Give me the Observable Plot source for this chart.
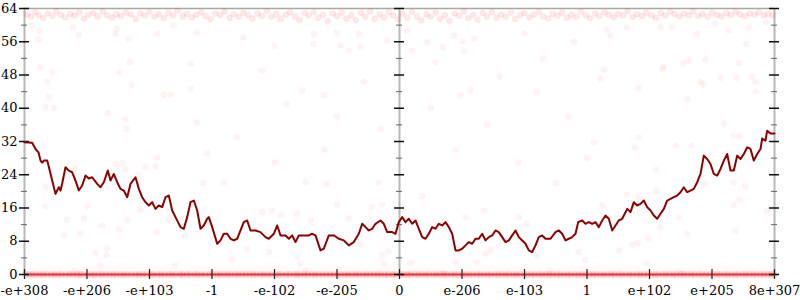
<!DOCTYPE html>
<html>
<head>
<meta charset="utf-8">
<script src="https://cdn.jsdelivr.net/npm/d3@7"></script>
<script src="https://cdn.jsdelivr.net/npm/@observablehq/plot@0.6"></script>
<style>
  html, body { margin: 0; padding: 0; background: #fff; }
</style>
</head>
<body>
<div id="chart"></div>
<script>
// X axis: evenly spaced positions (-6..6) labelled with double-precision magnitudes
const xTicks = [-6, -5, -4, -3, -2, -1, 0, 1, 2, 3, 4, 5, 6];
const xLabels = ["-e+308", "-e+206", "-e+103", "-1", "-e-102", "-e-205", "0", "e-206", "e-103", "1", "e+102", "e+205", "8e+307"];
const yMajor = [0, 8, 16, 24, 32, 40, 48, 56, 64];
const yMinor = [4, 12, 20, 28, 36, 44, 52, 60];
const axisPositions = [-6, 0, 6];

// Moving-average error line
const lineX = [-6.000,-5.877,-5.824,-5.776,-5.744,-5.717,-5.691,-5.637,-5.616,-5.557,-5.504,-5.451,-5.424,-5.397,-5.344,-5.291,-5.237,-5.184,-5.131,-5.077,-5.024,-4.971,-4.917,-4.837,-4.784,-4.731,-4.667,-4.624,-4.571,-4.517,-4.464,-4.411,-4.357,-4.304,-4.224,-4.171,-4.117,-4.064,-4.011,-3.957,-3.904,-3.851,-3.797,-3.744,-3.691,-3.637,-3.584,-3.504,-3.451,-3.397,-3.344,-3.291,-3.237,-3.184,-3.131,-3.077,-3.051,-2.997,-2.917,-2.864,-2.811,-2.757,-2.704,-2.651,-2.597,-2.544,-2.491,-2.437,-2.384,-2.304,-2.224,-2.144,-2.091,-2.011,-1.957,-1.904,-1.824,-1.771,-1.717,-1.664,-1.611,-1.531,-1.451,-1.397,-1.344,-1.264,-1.211,-1.131,-1.051,-0.971,-0.891,-0.811,-0.731,-0.651,-0.597,-0.544,-0.491,-0.437,-0.384,-0.304,-0.251,-0.197,-0.117,-0.064,-0.011,0.043,0.096,0.149,0.203,0.256,0.309,0.363,0.416,0.469,0.523,0.576,0.629,0.683,0.736,0.789,0.843,0.896,0.949,1.003,1.056,1.109,1.163,1.216,1.269,1.323,1.376,1.429,1.483,1.536,1.589,1.643,1.696,1.749,1.803,1.856,1.909,1.963,2.016,2.069,2.123,2.176,2.229,2.283,2.336,2.416,2.496,2.549,2.603,2.656,2.709,2.763,2.816,2.859,2.923,2.976,3.029,3.083,3.136,3.189,3.243,3.296,3.349,3.403,3.456,3.509,3.563,3.643,3.696,3.749,3.803,3.856,3.909,3.963,4.016,4.069,4.123,4.176,4.229,4.283,4.336,4.389,4.443,4.496,4.549,4.603,4.656,4.709,4.763,4.816,4.869,4.923,4.976,5.029,5.083,5.136,5.189,5.243,5.296,5.349,5.403,5.456,5.509,5.563,5.616,5.669,5.723,5.776,5.803,5.856,5.883,5.936,6.000];
const lineY = [31.8,31.7,30.2,29.4,27.4,26.9,27.4,27.4,26.2,22.6,19.4,21.0,20.2,21.9,25.8,25.0,24.6,22.6,20.2,21.4,23.8,23.1,23.4,21.8,21.0,22.2,25.0,22.6,24.2,22.2,20.6,20.2,18.6,21.8,23.4,20.6,18.6,17.4,16.6,17.4,15.8,16.6,16.2,18.6,19.0,15.4,13.8,11.4,11.0,13.8,17.4,17.8,15.4,11.0,11.8,13.4,13.8,11.4,7.4,8.2,9.8,9.8,8.6,8.2,8.6,10.6,12.6,13.0,10.6,10.6,10.2,9.0,8.6,9.8,11.8,9.4,9.4,8.6,9.4,7.8,9.4,9.4,9.4,9.8,9.4,5.8,6.2,9.4,9.4,8.6,8.2,7.0,7.8,9.8,12.2,11.4,10.6,11.0,12.2,13.0,12.2,10.2,10.2,9.8,12.6,13.8,12.6,13.4,12.2,13.0,11.0,9.0,8.6,9.8,11.4,11.0,12.2,11.8,12.6,11.4,9.8,5.8,5.8,6.2,7.0,7.8,7.4,8.6,8.6,9.8,8.2,9.0,9.4,10.6,10.2,9.0,7.8,8.2,9.4,10.6,9.0,8.2,7.4,5.8,5.4,7.0,9.0,9.4,8.6,8.6,10.2,10.6,9.8,8.2,8.6,9.0,9.8,12.6,13.0,12.2,12.6,12.2,12.6,11.4,13.0,14.2,13.4,10.6,11.8,13.0,13.4,15.8,15.0,17.4,16.6,17.0,17.8,16.2,15.4,14.2,13.4,14.6,15.8,17.8,18.2,18.6,19.0,19.8,21.0,19.8,20.2,20.6,22.2,24.2,28.6,27.8,26.6,24.2,23.8,25.4,27.4,29.0,25.0,25.0,28.6,27.8,29.0,30.6,30.2,27.4,29.0,30.2,32.7,32.2,34.6,33.9,33.9];

// Dense band of samples near the top (~62 bits of error)
const topX = [-5.96,-5.90,-5.83,-5.77,-5.70,-5.63,-5.55,-5.49,-5.42,-5.35,-5.27,-5.20,-5.12,-5.05,-4.98,-4.90,-4.83,-4.75,-4.68,-4.60,-4.53,-4.46,-4.38,-4.30,-4.22,-4.15,-4.08,-4.00,-3.92,-3.85,-3.77,-3.70,-3.62,-3.55,-3.47,-3.40,-3.32,-3.25,-3.17,-3.10,-3.02,-2.95,-2.87,-2.80,-2.72,-2.65,-2.57,-2.50,-2.42,-2.35,-2.27,-2.20,-2.12,-2.05,-1.97,-1.90,-1.82,-1.75,-1.67,-1.60,-1.52,-1.45,-1.37,-1.30,-1.22,-1.15,-1.07,-1.00,-0.92,-0.85,-0.77,-0.70,-0.62,-0.55,-0.47,-0.40,-0.32,-0.25,-0.17,-0.10,-0.02,0.05,0.13,0.20,0.28,0.35,0.43,0.50,0.58,0.65,0.73,0.80,0.88,0.95,1.03,1.10,1.18,1.25,1.33,1.40,1.48,1.55,1.63,1.70,1.78,1.85,1.93,2.00,2.08,2.15,2.23,2.30,2.38,2.45,2.53,2.60,2.68,2.75,2.83,2.90,2.98,3.05,3.13,3.20,3.28,3.35,3.43,3.50,3.58,3.65,3.73,3.80,3.88,3.95,4.03,4.10,4.18,4.25,4.33,4.40,4.48,4.55,4.63,4.70,4.78,4.85,4.93,5.00,5.08,5.15,5.23,5.30,5.38,5.45,5.53,5.60,5.68,5.75,5.83,5.90,5.97];
const topY = [62.6,62.0,63.1,62.4,61.7,62.8,62.2,63.4,62.5,61.9,62.7,62.3,63.0,61.6,62.5,62.9,62.1,63.3,62.4,61.8,62.6,62.2,63.0,62.5,61.5,62.8,62.3,63.2,62.0,62.6,61.7,62.9,62.3,63.5,62.1,62.7,61.9,62.5,63.1,62.2,61.4,62.8,62.4,63.3,61.8,62.6,62.0,63.0,62.4,61.6,62.8,62.2,63.4,62.0,62.7,61.5,62.5,63.1,62.1,61.2,62.9,62.3,63.2,61.8,62.5,61.0,62.8,62.2,63.0,61.6,62.4,61.2,62.9,62.0,63.3,61.5,62.6,61.9,63.1,62.3,61.4,62.7,61.8,63.2,62.1,61.1,62.6,62.0,63.0,61.6,62.4,61.0,62.8,62.2,63.3,61.7,62.5,61.3,62.9,62.1,63.1,61.8,62.6,62.0,63.0,61.5,62.4,62.9,61.9,62.5,63.2,62.1,61.6,62.7,62.3,63.0,61.8,62.5,62.0,63.3,62.4,61.7,62.8,62.2,63.1,62.5,61.9,62.7,62.3,63.4,62.0,62.6,62.2,63.0,62.4,61.8,62.9,62.3,63.2,62.6,62.1,62.8,62.4,63.3,62.2,62.7,62.0,63.0,62.5,62.1,62.9,62.4,63.2,62.6,62.2,62.8,62.5,63.1,62.3,62.7,62.4];

// Dense band of samples at 0 bits of error
const bottomX = [-5.98,-5.93,-5.87,-5.82,-5.75,-5.70,-5.64,-5.57,-5.52,-5.46,-5.41,-5.34,-5.28,-5.23,-5.16,-5.11,-5.05,-4.99,-4.93,-4.88,-4.81,-4.76,-4.70,-4.64,-4.58,-4.53,-4.46,-4.41,-4.35,-4.29,-4.22,-4.17,-4.11,-4.05,-3.98,-3.94,-3.87,-3.82,-3.76,-3.69,-3.64,-3.58,-3.51,-3.47,-3.40,-3.35,-3.28,-3.23,-3.17,-3.11,-3.04,-2.99,-2.92,-2.87,-2.81,-2.75,-2.70,-2.63,-2.58,-2.52,-2.46,-2.40,-2.34,-2.29,-2.22,-2.17,-2.11,-2.05,-1.98,-1.93,-1.88,-1.81,-1.76,-1.69,-1.64,-1.59,-1.52,-1.47,-1.40,-1.35,-1.29,-1.23,-1.17,-1.11,-1.05,-0.99,-0.94,-0.87,-0.82,-0.76,-0.70,-0.65,-0.58,-0.53,-0.47,-0.41,-0.35,-0.30,-0.23,-0.18,-0.11,-0.06,0.02,0.07,0.13,0.18,0.25,0.30,0.36,0.42,0.47,0.54,0.59,0.65,0.71,0.76,0.83,0.88,0.94,1.01,1.06,1.12,1.17,1.24,1.29,1.35,1.41,1.46,1.53,1.58,1.64,1.70,1.75,1.82,1.87,1.93,2.00,2.05,2.11,2.16,2.23,2.28,2.34,2.40,2.45,2.52,2.57,2.63,2.69,2.74,2.81,2.86,2.92,2.98,3.04,3.10,3.15,3.22,3.27,3.33,3.39,3.44,3.51,3.56,3.62,3.68,3.73,3.80,3.85,3.91,3.97,4.03,4.09,4.14,4.21,4.26,4.32,4.38,4.43,4.50,4.55,4.61,4.67,4.72,4.79,4.84,4.90,4.96,5.02,5.08,5.13,5.20,5.25,5.31,5.37,5.42,5.49,5.54,5.60,5.66,5.71,5.78,5.83,5.89,5.95,5.99];
const bottomY = 0;

// Sparse samples scattered between the bands
const midX = [-5.877,-5.760,-5.771,-5.744,-5.557,-5.637,-5.611,-5.221,-5.131,-4.544,-4.517,-4.315,-4.475,-4.288,-4.331,-3.328,-3.333,-3.771,-3.664,-3.877,-3.611,-3.237,-5.664,-5.531,-4.667,-4.384,-4.368,-3.237,-3.877,-4.075,-4.544,-4.437,-4.384,-4.181,-5.184,-5.664,-3.077,-3.904,-3.141,-4.997,-5.664,-5.317,-5.051,-4.757,-4.491,-4.357,-4.144,-3.877,-3.691,-5.371,-5.104,-3.424,-4.864,-4.677,-4.688,-4.784,-3.584,-2.197,-2.037,-1.904,-1.637,-0.997,-0.437,-0.277,-2.437,-2.091,-1.637,-1.584,-0.624,-0.277,-2.677,-0.251,-2.811,-1.504,-1.157,-0.331,-1.424,-0.811,-0.181,0.363,1.056,1.349,1.909,2.043,0.176,0.896,1.243,1.376,1.456,2.203,2.869,2.976,3.109,3.829,3.765,4.427,4.672,5.189,5.349,5.440,4.107,3.643,4.107,3.829,3.243,4.896,5.349,5.536,5.440,5.349,4.469,4.176,4.603,3.989,3.509,3.723,3.813,5.376,5.883,3.963,3.269,4.203,4.229,4.539,4.629,4.896,5.429,5.547,5.136,5.392,5.643,5.696,5.696,4.816,4.859,3.819,4.603,3.216,3.376,3.643,4.176,4.363,4.763,5.269,5.056,5.589,5.856,3.323,-1.371,-0.944,-0.811,-0.624,-0.197,0.203,0.443,0.576,0.693,1.029,1.013,-0.571,1.605,1.136,-1.557,-1.211,0.976,-1.371,-1.008,-0.651,0.123,0.869,1.189,-2.2,-1.8,-1.0,-0.3,0.5,1.4,2.2,2.7,-2.6,3.0,-2.0,-1.2,0.9,1.9,2.5,2.3,2.8,-2.5,-2.0,2.0,-5.2,-3.0,-1.5,0.7,2.4,4.5];
const midY = [59.9,58.5,56.5,50.0,48.7,46.4,42.8,59.5,57.7,57.9,59.1,51.1,48.7,45.6,56.7,50.7,44.7,43.3,43.3,57.9,59.9,58.3,40.3,40.1,38.8,37.3,35.1,36.6,28.1,25.8,26.6,26.9,25.4,24.1,25.6,21.2,29.2,26.0,22.0,16.4,16.4,13.2,13.5,11.8,10.8,13.2,15.6,10.2,13.2,9.6,9.9,9.4,5.1,6.3,4.7,2.2,2.2,15.0,15.4,14.2,14.6,16.8,16.2,16.8,6.2,5.4,4.2,2.6,7.4,4.6,3.8,2.6,22.2,22.2,21.8,22.2,13.0,13.4,5.6,18.8,13.8,15.4,13.8,12.2,2.7,3.0,3.0,5.0,5.9,4.6,5.4,3.5,31.8,33.0,30.6,31.0,31.0,36.4,33.4,33.2,25.2,19.2,20.2,18.6,16.6,21.8,22.2,21.2,18.0,16.6,13.8,11.4,9.8,8.6,5.8,7.1,7.6,10.4,15.4,2.7,49.3,49.5,50.0,50.8,51.5,51.7,50.9,55.5,47.3,47.3,47.6,46.3,44.1,46.3,45.7,44.9,42.3,47.1,57.5,59.5,59.5,59.5,57.9,58.7,60.3,59.5,60.7,58.9,55.5,55.1,53.9,54.7,56.3,53.9,55.9,51.1,54.7,53.9,56.1,46.4,47.6,44.4,44.3,43.2,43.1,57.9,58.3,57.9,58.7,57.5,56.7,49,41,38,35,40,36,44,38,33,28,27,30,30,27,22,52,56,57,55,58,0.8,0.6,0.9,0.7,0.8,0.6];

const lineRows = lineX.map((x, i) => ({x, y: lineY[i]}));
const topRows = topX.map((x, i) => ({x, y: topY[i]}));
const bottomRows = bottomX.map(x => ({x, y: bottomY}));
const midRows = midX.map((x, i) => ({x, y: midY[i]}));
const majorTicks = yMajor.flatMap(v => axisPositions.map(a => ({a, v})));
const minorTicks = yMinor.flatMap(v => axisPositions.map(a => ({a, v})));

const chart = Plot.plot({
  width: 800,
  height: 300,
  marginLeft: 24,
  marginRight: 26,
  marginTop: 8,
  marginBottom: 26,
  style: {fontFamily: "'DejaVu Serif', serif", fontSize: "13px", background: "#fff", color: "#000"},
  x: {domain: [-6, 6], label: null},
  y: {domain: [0, 64], label: null},
  marks: [
    Plot.ruleY([64], {stroke: "#a8a8a8", strokeWidth: 1.6}),
    Plot.ruleX(axisPositions, {stroke: "#b8b8b8", strokeWidth: 2}),
    Plot.ruleY([0], {stroke: "#d8474d", strokeWidth: 2.2}),
    Plot.dot(midRows, {x: "x", y: "y", r: 2.8, fill: "red", fillOpacity: 0.045, stroke: "red", strokeOpacity: 0.025}),
    Plot.dot(topRows, {x: "x", y: "y", r: 2.8, fill: "red", fillOpacity: 0.085, stroke: "red", strokeOpacity: 0.04}),
    Plot.dot(bottomRows, {x: "x", y: "y", r: 3.2, fill: "red", fillOpacity: 0.14, stroke: "red", strokeOpacity: 0.04}),
    Plot.ruleY(minorTicks, {y: "v", x1: "a", x2: "a", insetLeft: -3, insetRight: -3, stroke: "#666", strokeWidth: 1}),
    Plot.ruleY(majorTicks, {y: "v", x1: "a", x2: "a", insetLeft: -5, insetRight: -5, stroke: "#111", strokeWidth: 1.5}),
    Plot.ruleX(xTicks, {x: d => d, y1: () => 0, y2: () => 0, insetTop: -5, insetBottom: -5, stroke: "#222", strokeWidth: 1.2}),
    Plot.axisY({anchor: "left", ticks: yMajor, tickSize: 0, tickPadding: 7, label: null}),
    Plot.axisX({anchor: "bottom", ticks: xTicks, tickFormat: t => xLabels[xTicks.indexOf(t)], tickSize: 0, tickPadding: 11, label: null}),
    Plot.line(lineRows, {x: "x", y: "y", stroke: "#8b0000", strokeWidth: 2})
  ]
});
document.getElementById("chart").appendChild(chart);
</script>
</body>
</html>
